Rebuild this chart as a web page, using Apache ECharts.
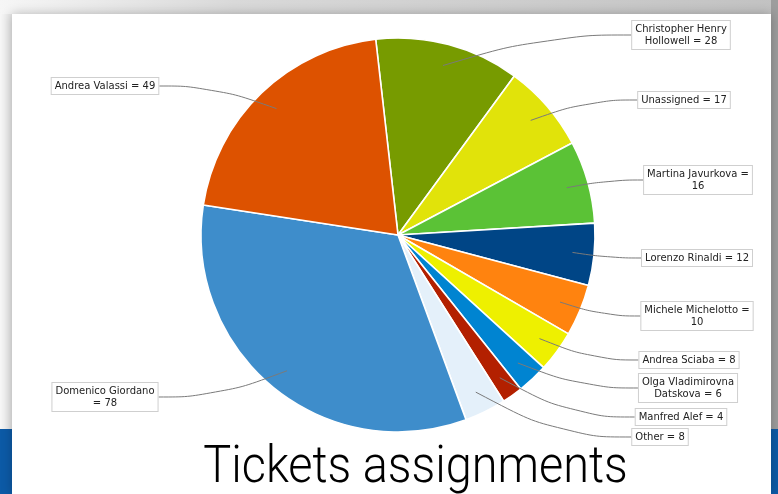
<!DOCTYPE html>
<html>
<head>
<meta charset="utf-8">
<script src="https://cdn.jsdelivr.net/npm/echarts@6/dist/echarts.min.js"></script>
<style>
  html, body { margin: 0; padding: 0; width: 778px; height: 494px; overflow: hidden; background: #e4e4e4; }
  #stage { position: relative; width: 778px; height: 494px; }
  .band-top { position: absolute; left: 0; top: 0; width: 778px; height: 14px;
    background: linear-gradient(to right, #f6f6f6 0%, #d9d9d9 30%, #c2c2c2 100%); }
  .band-left { position: absolute; left: 0; top: 14px; width: 14px; height: 415px;
    background: linear-gradient(to right, #f7f7f7, #e2e2e2); }
  .band-right { position: absolute; right: 0; top: 0; width: 7px; height: 494px; background: #9d9d9d; }
  .band-blue { position: absolute; left: 0; top: 429px; width: 778px; height: 65px; background: #0c5aa6; }
  .card { position: absolute; left: 12px; top: 14px; width: 759px; height: 480px; background: #fff;
    box-shadow: 0 0 10px rgba(0,0,0,0.25); }
  #chart { position: absolute; left: 0; top: 0; width: 778px; height: 494px; }
</style>
</head>
<body>
<div id="stage">
  <div class="band-top"></div>
  <div class="band-left"></div>
  <div class="band-right"></div>
  <div class="band-blue"></div>
  <div class="card"></div>
  <div id="chart"></div>
</div>
<script>
// Ticket counts per assignee
const assignees = [
  'Christopher Henry\nHollowell', 'Unassigned', 'Martina Javurkova', 'Lorenzo Rinaldi',
  'Michele Michelotto', 'Andrea Sciaba', 'Olga Vladimirovna\nDatskova', 'Manfred Alef',
  'Other', 'Domenico Giordano', 'Andrea Valassi'
];
const tickets = [28, 17, 16, 12, 10, 8, 6, 4, 8, 78, 49];
const sliceColors = [
  '#779B00', '#E1E30A', '#5BC236', '#004586', '#FF830F', '#EEF000',
  '#0084D1', '#B32000', '#E4F0FA', '#3E8DCB', '#DD5200'
];
const chartTitle = 'Tickets assignments';

// Label box placement: centre of each box, side it sits on, and how "name = value" is joined
const labelSpots = [
  { x: 681, y: 35,  side: 'r', join: ' = ' },
  { x: 684, y: 100, side: 'r', join: ' = ' },
  { x: 698, y: 180, side: 'r', join: ' =\n' },
  { x: 697, y: 258, side: 'r', join: ' = ' },
  { x: 697, y: 316, side: 'r', join: ' =\n' },
  { x: 689, y: 360, side: 'r', join: ' = ' },
  { x: 688, y: 388, side: 'r', join: ' = ' },
  { x: 681, y: 417, side: 'r', join: ' = ' },
  { x: 660, y: 437, side: 'r', join: ' = ' },
  { x: 105, y: 397, side: 'l', join: '\n= ' },
  { x: 105, y: 86,  side: 'l', join: ' = ' }
];

const pieData = assignees.map((n, i) => ({ name: n, value: tickets[i] }));
const CENTER = [398, 235];
const RADIUS = 197;
const START = 96.5;

const chart = echarts.init(document.getElementById('chart'), null, { renderer: 'canvas' });
chart.setOption({
  backgroundColor: 'transparent',
  animation: false,
  color: sliceColors,
  graphic: [{
    type: 'text',
    x: 415.5,
    y: 443,
    scaleX: 0.9,
    silent: true,
    style: {
      text: chartTitle,
      font: '300 52px Roboto',
      textAlign: 'center',
      textVerticalAlign: 'top',
      fill: '#000'
    }
  }],
  series: [
    {
      type: 'pie',
      center: CENTER,
      radius: RADIUS,
      startAngle: START,
      clockwise: true,
      silent: true,
      label: { show: false },
      labelLine: { show: false },
      itemStyle: { borderColor: '#ffffff', borderWidth: 1.6 },
      data: pieData
    },
    {
      // transparent twin that carries the labels; its leader lines start inside each slice
      type: 'pie',
      center: CENTER,
      radius: RADIUS * 0.89,
      startAngle: START,
      clockwise: true,
      silent: true,
      z: 5,
      avoidLabelOverlap: false,
      itemStyle: { color: 'rgba(0,0,0,0)' },
      label: {
        show: true,
        position: 'outside',
        fontFamily: 'DejaVu Sans',
        fontSize: 10,
        lineHeight: 12,
        color: '#222',
        align: 'center',
        backgroundColor: '#fff',
        borderColor: '#cfcfcf',
        borderWidth: 1,
        padding: [2, 3, 2, 3],
        formatter: p => p.name + labelSpots[p.dataIndex].join + p.value
      },
      labelLine: {
        show: true,
        length: 10,
        length2: 10,
        smooth: 0.5,
        lineStyle: { color: '#7a7a7a', width: 1 }
      },
      labelLayout: function (params) {
        const spot = labelSpots[params.dataIndex];
        const w = params.labelRect.width;
        const start = params.labelLinePoints ? params.labelLinePoints[0] : [spot.x, spot.y];
        const endX = spot.side === 'r' ? spot.x - w / 2 : spot.x + w / 2;
        const midX = start[0] + (endX - start[0]) * 0.55;
        return {
          x: spot.x,
          y: spot.y,
          align: 'center',
          verticalAlign: 'middle',
          labelLinePoints: [start, [midX, spot.y], [endX, spot.y]]
        };
      },
      data: pieData
    }
  ]
});
</script>
</body>
</html>
